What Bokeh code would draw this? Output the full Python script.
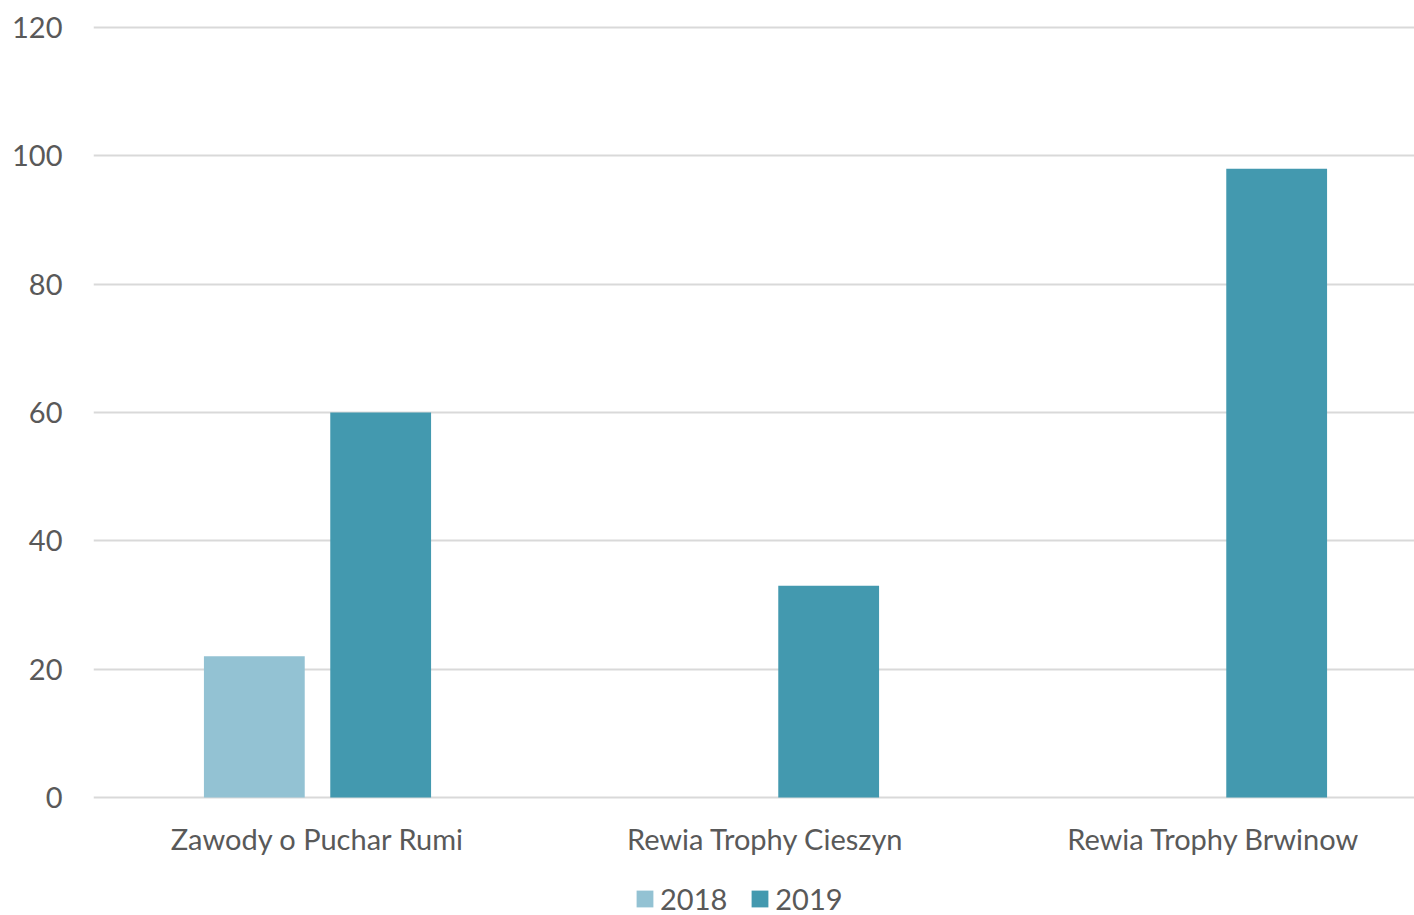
from bokeh.plotting import figure
from bokeh.models import Range1d, FixedTicker, Legend, LegendItem, ColumnDataSource
from bokeh.core.properties import value
from bokeh.embed import file_html
from bokeh.resources import INLINE

categories = ["Zawody o Puchar Rumi", "Rewia Trophy Cieszyn", "Rewia Trophy Brwinow"]
series_names = ["2018", "2019"]
values_2018 = [22, 0, 0]
values_2019 = [60, 33, 98]
y_ticks = [0, 20, 40, 60, 80, 100, 120]

colors = ["#93C2D3", "#4399AF"]
FONT = "Lato"
TXT = "#595959"

centers = [i + 0.5 for i in range(len(categories))]
offset = 0.141
bar_w = 0.225

# layout in pixels
W, H = 1414, 915
LEFT, TOP = 93, 25
Y0_PX, Y120_PX = 797, 27           # pixel rows of value 0 and 120
ppu = (Y0_PX - Y120_PX) / 120.0     # pixels per unit
y_start = -(H - Y0_PX) / ppu
y_end = 120 + (Y120_PX - TOP) / ppu
LABEL_DROP = 41                     # category label centre below baseline, px

p = figure(width=W, height=H, output_backend="svg", toolbar_location=None,
           x_range=Range1d(0, (W - LEFT) / 448), y_range=Range1d(y_start, y_end),
           min_border_left=LEFT, min_border_right=0, min_border_top=TOP, min_border_bottom=0)
p.outline_line_color = None
p.background_fill_color = "white"
p.border_fill_color = "white"

renderers = []
for vals, off, col in [(values_2018, -offset, colors[0]), (values_2019, offset, colors[1])]:
    src = ColumnDataSource(dict(x=[c + off for c in centers], top=vals))
    r = p.vbar(x="x", top="top", bottom=0, width=bar_w, source=src, fill_color=col, line_color=None)
    renderers.append(r)

# category labels (x axis)
lab_src = ColumnDataSource(dict(x=centers, y=[-LABEL_DROP / ppu] * len(centers), t=categories))
p.text(x="x", y="y", text="t", source=lab_src, text_align="center", text_baseline="middle",
       text_font=value(FONT), text_font_size="29px", text_color=TXT)

p.xaxis.visible = False
p.yaxis.ticker = FixedTicker(ticks=y_ticks)
ax = p.yaxis
ax.axis_line_color = None
ax.major_tick_line_color = None
ax.minor_tick_line_color = None
ax.major_label_text_font = FONT
ax.major_label_text_font_size = "29px"
ax.major_label_text_color = TXT
ax.major_label_standoff = 25

p.xgrid.grid_line_color = None
p.ygrid.ticker = FixedTicker(ticks=y_ticks)
p.ygrid.grid_line_color = "#D9D9D9"
p.ygrid.grid_line_width = 2

legend = Legend(items=[LegendItem(label=n, renderers=[r]) for n, r in zip(series_names, renderers)],
                location=(541, -1), orientation="horizontal",
                glyph_width=21, glyph_height=21, label_standoff=5, spacing=22,
                padding=0, margin=0, border_line_color=None, background_fill_alpha=0,
                label_text_font=FONT, label_text_font_size="29px", label_text_color=TXT)
p.add_layout(legend, "center")

open("out.html", "w").write(file_html(p, INLINE))
